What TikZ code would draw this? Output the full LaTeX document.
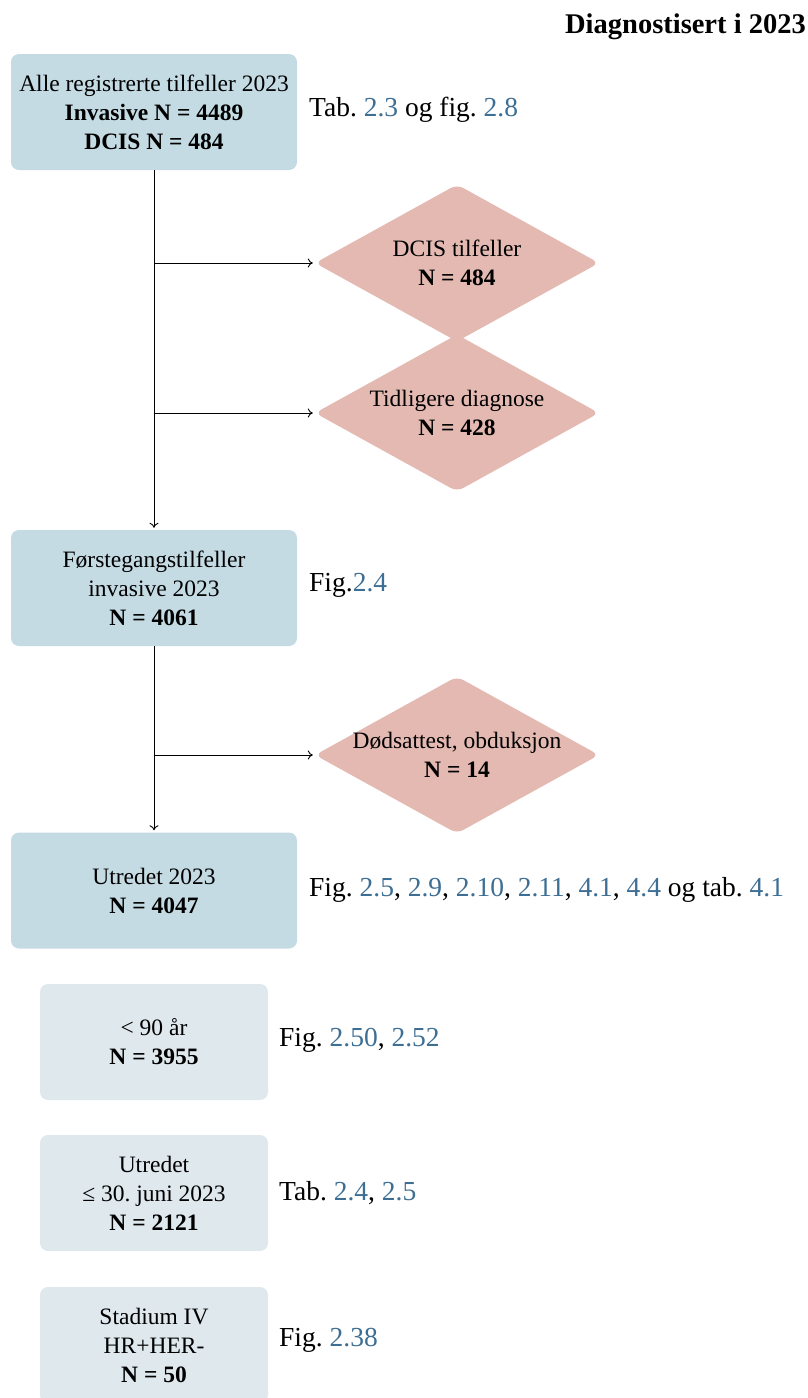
\documentclass[tikz,border=0pt]{standalone}
\usepackage{fontspec}
\setmainfont{Liberation Serif}
\usetikzlibrary{shapes.geometric,arrows.meta}
\definecolor{boxblue}{HTML}{C4DBE3}
\definecolor{boxlight}{HTML}{DFE8ED}
\definecolor{diapink}{HTML}{E3B9B2}
\definecolor{linkblue}{HTML}{3D6E94}
\newcommand{\lk}[1]{\textcolor{linkblue}{#1}}
\frenchspacing
\tikzset{
  mainbox/.style={rectangle, rounded corners=8pt, fill=boxblue, minimum width=286pt, minimum height=116pt, inner sep=0pt, align=center, font=\fontsize{23.5}{29}\selectfont},
  subbox/.style={rectangle, rounded corners=8pt, fill=boxlight, minimum width=228pt, minimum height=116pt, inner sep=0pt, align=center, font=\fontsize{23.5}{29}\selectfont},
  excl/.style={diamond, aspect=1.82, rounded corners=7pt, fill=diapink, minimum width=284pt, minimum height=157pt, inner xsep=-14pt, inner ysep=-4pt, align=center, font=\fontsize{23.5}{29}\selectfont},
  reflabel/.style={anchor=west, inner sep=0pt, font=\fontsize{27.5}{32}\selectfont},
  arr/.style={-{To[length=5pt,width=9pt]}, line width=0.9pt, black}
}
\begin{document}
\begin{tikzpicture}[x=1pt,y=-1pt]
\useasboundingbox (0,0) rectangle (808,1398);
\node[anchor=east, inner sep=0pt, font=\fontsize{28.5}{32}\selectfont\bfseries] (title) at (806,27) {Diagnostisert i 2023};

\node[mainbox] (b1) at (154,112) {Alle registrerte tilfeller 2023\\ \textbf{Invasive N = 4489}\\ \textbf{DCIS N = 484}};
\node[reflabel] (l1) at (309,110) {Tab. \lk{2.3} og fig. \lk{2.8}};

\node[excl] (d1) at (457,263) {DCIS tilfeller\\ \textbf{N = 484}};
\node[excl] (d2) at (457,413) {Tidligere diagnose\\ \textbf{N = 428}};

\node[mainbox] (b2) at (154,588) {Førstegangstilfeller\\ invasive 2023\\ \textbf{N = 4061}};
\node[reflabel] (l2) at (309,585) {Fig.\lk{2.4}};

\node[excl] (d3) at (457,755) {Dødsattest, obduksjon\\ \textbf{N = 14}};

\node[mainbox] (b3) at (154,890.5) {Utredet 2023\\ \textbf{N = 4047}};
\node[reflabel] (l3) at (309,890) {Fig. \lk{2.5}, \lk{2.9}, \lk{2.10}, \lk{2.11}, \lk{4.1}, \lk{4.4} og tab. \lk{4.1}};

\node[subbox] (b4) at (154,1042) {< 90 år\\ \textbf{N = 3955}};
\node[reflabel] (l4) at (279,1040) {Fig. \lk{2.50}, \lk{2.52}};

\node[subbox] (b5) at (154,1193) {Utredet\\ ≤ 30. juni 2023\\ \textbf{N = 2121}};
\node[reflabel] (l5) at (279,1193) {Tab. \lk{2.4}, \lk{2.5}};

\node[subbox] (b6) at (154,1345) {Stadium IV\\ HR+HER-\\ \textbf{N = 50}};
\node[reflabel] (l6) at (279,1340) {Fig. \lk{2.38}};

\draw[arr] (b1.south) -- ([yshift=2pt]b2.north);
\draw[arr] (b1.south |- d1.west) -- ([xshift=-2pt]d1.west);
\draw[arr] (b1.south |- d2.west) -- ([xshift=-2pt]d2.west);
\draw[arr] (b2.south) -- ([yshift=2pt]b3.north);
\draw[arr] (b2.south |- d3.west) -- ([xshift=-2pt]d3.west);
\end{tikzpicture}
\end{document}
